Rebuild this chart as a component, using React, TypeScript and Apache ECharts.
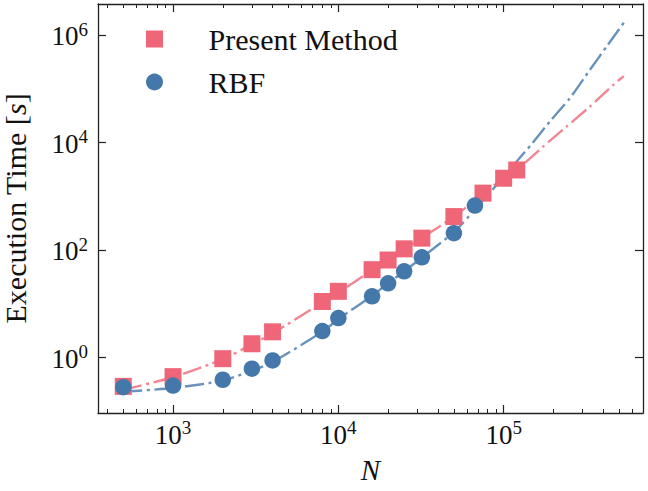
import React, { useEffect, useRef } from 'react';
import * as echarts from 'echarts';

const pmN = [500, 1000, 2000, 3000, 4000, 8000, 10000, 16000, 20000, 25000, 32000, 50000, 75000, 100000, 120000];
const pmTime = [0.29, 0.44, 0.95, 1.8, 3.0, 11, 17, 43, 65, 105, 166, 418, 1140, 2160, 3080];
const rbfN = [500, 1000, 2000, 3000, 4000, 8000, 10000, 16000, 20000, 25000, 32000, 50000, 67000];
const rbfTime = [0.28, 0.3, 0.385, 0.62, 0.88, 3.1, 5.4, 13.7, 24, 40, 73, 205, 670];

// Fitted curves
const pmFitN = [500, 1000, 2000, 3000, 4000, 8000, 10000, 16000, 20000, 25000, 32000, 50000, 75000, 100000, 137000, 173000, 240000, 332000, 459000, 533000];
const pmFitTime = [0.25, 0.43, 0.93, 1.75, 2.8, 10.5, 16, 42, 64, 102, 168, 415, 1100, 2200, 4400, 8350, 19700, 46300, 117000, 172000];
const rbfFitN = [500, 1000, 2000, 3000, 4000, 8000, 10000, 16000, 20000, 25000, 32000, 50000, 67000, 100000, 122000, 145000, 190000, 251000, 332000, 419000, 533000];
const rbfFitTime = [0.23, 0.27, 0.37, 0.57, 0.82, 3.0, 5.2, 14, 24, 40, 72, 215, 560, 2300, 4730, 8710, 24400, 66000, 223000, 604000, 1690000];

// Axis extents (log10)
const X_LOG_MIN = 2.546;
const X_LOG_MAX = 5.843;
const Y_LOG_MIN = -1.033;
const Y_LOG_MAX = 6.576;
const xMajorExp = [3, 4, 5];
const yMajorExp = [0, 2, 4, 6];

const FONT = '"Liberation Serif", "DejaVu Serif", serif';
const RED = '#EE6677';
const BLUE = '#4477AA';
const AXIS_COLOR = '#222';

function xMinorExp(): number[] {
  const out: number[] = [];
  for (let d = 2; d <= 5; d++) {
    for (let k = 2; k <= 9; k++) {
      const e = d + Math.log10(k);
      if (e > X_LOG_MIN && e < X_LOG_MAX) out.push(e);
    }
  }
  return out;
}

export default function App() {
  const ref = useRef<HTMLDivElement>(null);
  useEffect(() => {
    if (!ref.current) return;
    const chart = echarts.init(ref.current, undefined, { renderer: 'svg' });
    const minor = xMinorExp();
    const richLabel = {
      b: { fontSize: 27, fontFamily: FONT, color: '#111', padding: [3, 0, 0, 0] },
      s: { fontSize: 19, fontFamily: FONT, color: '#111', verticalAlign: 'top' },
    };
    const fmt = (v: number) => `{b|10}{s|${Math.round(v)}}`;
    const deco = (extra: any) => ({
      type: 'value',
      splitLine: { show: false },
      axisLine: { show: false, onZero: false },
      axisTick: { show: false },
      axisLabel: { show: false },
      ...extra,
    });
    const lineStyleAxis = { show: true, onZero: false, lineStyle: { color: AXIS_COLOR, width: 1.3 } };
    const option: any = {
      animation: false,
      backgroundColor: '#fff',
      grid: { left: 98, right: 5, top: 4, bottom: 78, containLabel: false, outerBoundsMode: 'none' },
      legend: {
        orient: 'vertical',
        left: 146,
        top: 24,
        padding: 0,
        itemGap: 13,
        itemWidth: 98,
        itemHeight: 17,
        textStyle: { fontSize: 30, fontFamily: FONT, color: '#111', lineHeight: 29 },
        data: [
          { name: 'Present Method', icon: 'path://M0,0H10V10H0Z' },
          { name: 'RBF', icon: 'circle' },
        ],
      },
      xAxis: [
        { type: 'log', logBase: 10, min: Math.pow(10, X_LOG_MIN), max: Math.pow(10, X_LOG_MAX), show: false, position: 'bottom' },
        deco({
          min: X_LOG_MIN, max: X_LOG_MAX, position: 'bottom',
          axisLine: lineStyleAxis,
          axisTick: { show: true, inside: true, length: 8, customValues: xMajorExp, lineStyle: { color: AXIS_COLOR, width: 1.2 } },
          axisLabel: { show: true, customValues: xMajorExp, formatter: fmt, rich: richLabel, margin: 5 },
          name: 'N', nameLocation: 'middle', nameGap: 42,
          nameTextStyle: { fontSize: 29, fontFamily: FONT, fontStyle: 'italic', color: '#111' },
        }),
        deco({
          min: X_LOG_MIN, max: X_LOG_MAX, position: 'bottom',
          axisTick: { show: true, inside: true, length: 4, customValues: minor, lineStyle: { color: AXIS_COLOR, width: 1 } },
        }),
        deco({
          min: X_LOG_MIN, max: X_LOG_MAX, position: 'top',
          axisLine: lineStyleAxis,
          axisTick: { show: true, inside: true, length: 8, customValues: xMajorExp, lineStyle: { color: AXIS_COLOR, width: 1.2 } },
        }),
        deco({
          min: X_LOG_MIN, max: X_LOG_MAX, position: 'top',
          axisTick: { show: true, inside: true, length: 4, customValues: minor, lineStyle: { color: AXIS_COLOR, width: 1 } },
        }),
      ],
      yAxis: [
        { type: 'log', logBase: 10, min: Math.pow(10, Y_LOG_MIN), max: Math.pow(10, Y_LOG_MAX), show: false, position: 'left' },
        deco({
          min: Y_LOG_MIN, max: Y_LOG_MAX, position: 'left',
          axisLine: lineStyleAxis,
          axisTick: { show: true, inside: true, length: 8, customValues: yMajorExp, lineStyle: { color: AXIS_COLOR, width: 1.2 } },
          axisLabel: { show: true, customValues: yMajorExp, formatter: fmt, rich: richLabel, margin: 10 },
          name: '{a|Execution Time [}{i|s}{a|]}',
          nameLocation: 'middle', nameGap: 68, nameRotate: 90,
          nameTextStyle: {
            rich: {
              a: { fontSize: 30, fontFamily: FONT, color: '#111' },
              i: { fontSize: 30, fontFamily: FONT, color: '#111', fontStyle: 'italic' },
            },
          },
        }),
        deco({
          min: Y_LOG_MIN, max: Y_LOG_MAX, position: 'right',
          axisLine: lineStyleAxis,
          axisTick: { show: true, inside: true, length: 8, customValues: yMajorExp, lineStyle: { color: AXIS_COLOR, width: 1.2 } },
        }),
      ],
      series: [
        {
          name: 'Present Method fit', type: 'line', xAxisIndex: 0, yAxisIndex: 0, z: 1,
          showSymbol: false, smooth: 0.2,
          lineStyle: { color: RED, opacity: 0.8, width: 2.4, type: [19, 4.5, 3, 4.5] },
          data: pmFitN.map((n, i) => [n, pmFitTime[i]]),
        },
        {
          name: 'RBF fit', type: 'line', xAxisIndex: 0, yAxisIndex: 0, z: 1,
          showSymbol: false, smooth: 0.2,
          lineStyle: { color: BLUE, opacity: 0.8, width: 2.4, type: [19, 4.5, 3, 4.5] },
          data: rbfFitN.map((n, i) => [n, rbfFitTime[i]]),
        },
        {
          name: 'Present Method', type: 'scatter', xAxisIndex: 0, yAxisIndex: 0, z: 2,
          symbol: 'rect', symbolSize: 17,
          itemStyle: { color: RED, opacity: 1 },
          data: pmN.map((n, i) => [n, pmTime[i]]),
        },
        {
          name: 'RBF', type: 'scatter', xAxisIndex: 0, yAxisIndex: 0, z: 3,
          symbol: 'circle', symbolSize: 16.5,
          itemStyle: { color: BLUE, opacity: 1 },
          data: rbfN.map((n, i) => [n, rbfTime[i]]),
        },
      ],
    };
    chart.setOption(option);
    return () => chart.dispose();
  }, []);
  return <div ref={ref} style={{ position: 'absolute', left: 0, top: 0, width: 648, height: 491 }} />;
}
